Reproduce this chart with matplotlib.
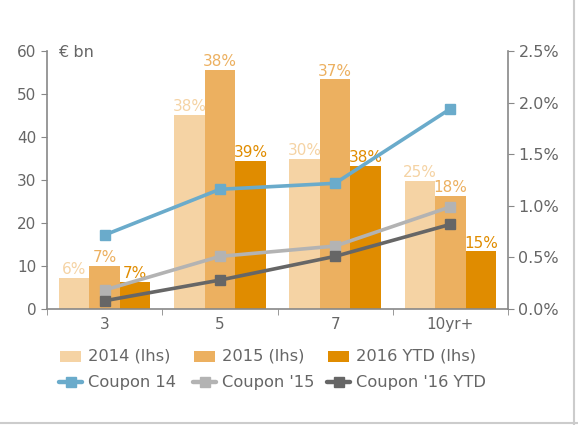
import matplotlib
matplotlib.use("Agg")
import numpy as np
import matplotlib.pyplot as plt
from matplotlib.lines import Line2D
from matplotlib.patches import Rectangle

categories = ["3", "5", "7", "10yr+"]
vol_2014 = [7.2, 45.1, 34.9, 29.7]
vol_2015 = [10.0, 55.6, 53.4, 26.2]
vol_2016 = [6.3, 34.5, 33.3, 13.4]
share_2014 = ["6%", "38%", "30%", "25%"]
share_2015 = ["7%", "38%", "37%", "18%"]
share_2016 = ["7%", "39%", "38%", "15%"]
coupon_14 = [0.717, 1.16, 1.218, 1.94]
coupon_15 = [0.184, 0.51, 0.61, 0.99]
coupon_16 = [0.08, 0.28, 0.51, 0.82]

bar_names = ["2014 (lhs)", "2015 (lhs)", "2016 YTD (lhs)"]
line_names = ["Coupon 14", "Coupon '15", "Coupon '16 YTD"]
bar_cols = ["#F5D3A4", "#ECB060", "#E08C00"]
line_cols = ["#6AABCB", "#B3B3B3", "#666666"]
txt = "#666666"
spine = "#888888"

W, H = 578, 425
plt.rcParams["font.family"] = "DejaVu Sans"
fig = plt.figure(figsize=(W/100, H/100), dpi=100)
ax = fig.add_axes([47/W, 116/H, 461/W, 258/H])
ax2 = ax.twinx()

x = np.arange(len(categories))
w = 0.265
for off, vals, col, labs in zip([-w, 0, w], [vol_2014, vol_2015, vol_2016],
                                bar_cols, [share_2014, share_2015, share_2016]):
    ax.bar(x + off, vals, w, color=col, zorder=2)
    for xi, v, l in zip(x + off, vals, labs):
        ax.text(xi, v + 0.2, l, ha="center", va="bottom", color=col, fontsize=11)

for vals, col in zip([coupon_14, coupon_15, coupon_16], line_cols):
    ax2.plot(x, vals, color=col, lw=2.6, marker="s", ms=7.5, zorder=5)

ax.set_xlim(-0.5, 3.5)
ax.set_ylim(0, 60)
ax.set_yticks(range(0, 61, 10))
ax2.set_ylim(0, 2.5)
ax2.set_yticks(np.arange(0, 2.51, 0.5))
ax2.set_yticklabels(["%.1f%%" % t for t in np.arange(0, 2.51, 0.5)])

ax.set_xticks(x)
ax.set_xticklabels(categories)
ax.set_xticks(np.arange(-0.5, 3.6, 1), minor=True)
ax.tick_params(axis="x", which="major", length=0, colors=txt, labelsize=11, pad=6)
ax.tick_params(axis="x", which="minor", length=4, color=spine, direction="out")
ax.tick_params(axis="y", length=4, color=spine, colors=txt, labelsize=11)
ax2.tick_params(axis="y", length=4, color=spine, colors=txt, labelsize=11.5)
for a in (ax, ax2):
    for s in a.spines.values():
        s.set_visible(False)
for s in (ax.spines["left"], ax.spines["bottom"], ax2.spines["right"]):
    s.set_visible(True)
    s.set_color(spine)
    s.set_linewidth(1.2)

ax.text(0.024, 0.995, "€ bn", transform=ax.transAxes, ha="left", va="center",
        color=txt, fontsize=11.5)

# legend drawn by hand, fixed column widths like the original
col_x = [60, 194, 328]
row_y = [356, 382]
for i in range(3):
    x0 = col_x[i]
    fig.add_artist(Rectangle((x0/W, 1 - (row_y[0] + 5.5)/H), 21/W, 11/H,
                             transform=fig.transFigure, color=bar_cols[i], lw=0))
    fig.text((x0 + 28)/W, 1 - row_y[0]/H, bar_names[i], ha="left", va="center",
             color=txt, fontsize=11.7)
    yy = 1 - row_y[1]/H
    fig.add_artist(Line2D([(x0 - 1)/W, (x0 + 22)/W], [yy, yy], color=line_cols[i],
                          lw=3.2, solid_capstyle="round"))
    fig.add_artist(Line2D([(x0 + 10.5)/W], [yy], color=line_cols[i], marker="s",
                          ms=7.5, lw=0))
    fig.text((x0 + 28)/W, yy, line_names[i], ha="left", va="center",
             color=txt, fontsize=11.7)

fig.add_artist(Line2D([574/W, 574/W], [0, 1], color="#CCCCCC", lw=1.5))
fig.add_artist(Line2D([0, 1], [2.5/H, 2.5/H], color="#CCCCCC", lw=1.5))

fig.savefig("out.png", dpi=100)
